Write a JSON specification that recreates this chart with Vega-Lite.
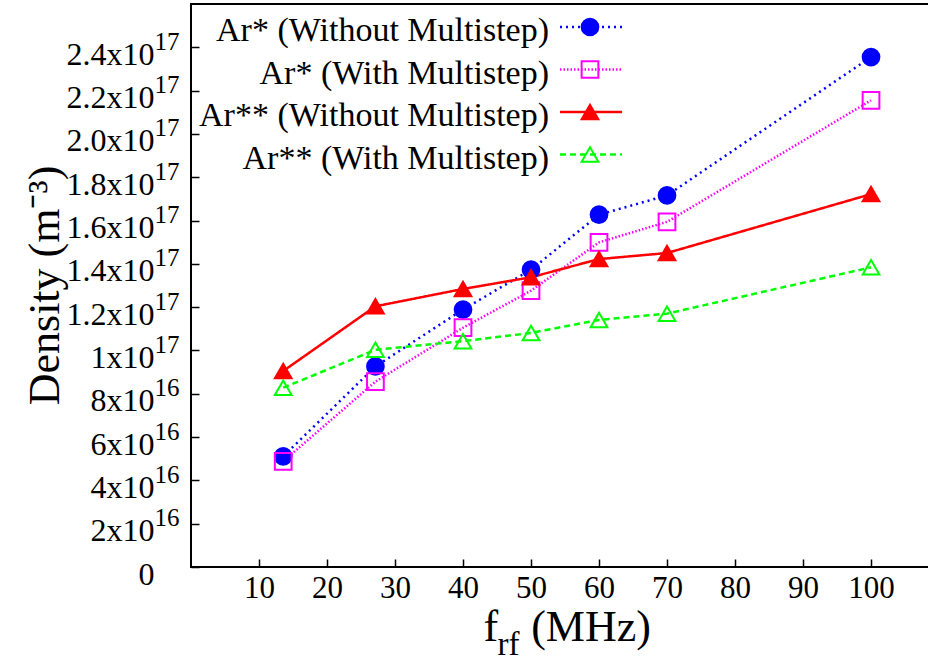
{
  "$schema": "https://vega.github.io/schema/vega-lite/v6.json",
  "width": 740,
  "height": 563,
  "autosize": {"type": "none"},
  "padding": {"left": 191, "top": 4, "right": 0, "bottom": 90},
  "background": "white",
  "config": {
    "view": {"stroke": "black", "strokeWidth": 2},
    "font": "Liberation Serif",
    "axis": {"grid": false, "domain": false, "labelFont": "Liberation Serif", "titleFont": "Liberation Serif", "labelColor": "black", "titleColor": "black", "titleFontWeight": "normal", "tickColor": "black"}
  },
  "data": {
    "values": [
      {"f": 13.56, "d": 5.11e16, "s": "Ar* (Without Multistep)"},
      {"f": 27.12, "d": 9.26e16, "s": "Ar* (Without Multistep)"},
      {"f": 40, "d": 1.189e17, "s": "Ar* (Without Multistep)"},
      {"f": 50, "d": 1.373e17, "s": "Ar* (Without Multistep)"},
      {"f": 60, "d": 1.627e17, "s": "Ar* (Without Multistep)"},
      {"f": 70, "d": 1.716e17, "s": "Ar* (Without Multistep)"},
      {"f": 100, "d": 2.355e17, "s": "Ar* (Without Multistep)"},
      {"f": 13.56, "d": 4.88e16, "s": "Ar* (With Multistep)"},
      {"f": 27.12, "d": 8.56e16, "s": "Ar* (With Multistep)"},
      {"f": 40, "d": 1.105e17, "s": "Ar* (With Multistep)"},
      {"f": 50, "d": 1.276e17, "s": "Ar* (With Multistep)"},
      {"f": 60, "d": 1.499e17, "s": "Ar* (With Multistep)"},
      {"f": 70, "d": 1.594e17, "s": "Ar* (With Multistep)"},
      {"f": 100, "d": 2.155e17, "s": "Ar* (With Multistep)"},
      {"f": 13.56, "d": 9.05e16, "s": "Ar** (Without Multistep)"},
      {"f": 27.12, "d": 1.204e17, "s": "Ar** (Without Multistep)"},
      {"f": 40, "d": 1.284e17, "s": "Ar** (Without Multistep)"},
      {"f": 50, "d": 1.338e17, "s": "Ar** (Without Multistep)"},
      {"f": 60, "d": 1.422e17, "s": "Ar** (Without Multistep)"},
      {"f": 70, "d": 1.45e17, "s": "Ar** (Without Multistep)"},
      {"f": 100, "d": 1.722e17, "s": "Ar** (Without Multistep)"},
      {"f": 13.56, "d": 8.28e16, "s": "Ar** (With Multistep)"},
      {"f": 27.12, "d": 1.003e17, "s": "Ar** (With Multistep)"},
      {"f": 40, "d": 1.043e17, "s": "Ar** (With Multistep)"},
      {"f": 50, "d": 1.081e17, "s": "Ar** (With Multistep)"},
      {"f": 60, "d": 1.141e17, "s": "Ar** (With Multistep)"},
      {"f": 70, "d": 1.17e17, "s": "Ar** (With Multistep)"},
      {"f": 100, "d": 1.384e17, "s": "Ar** (With Multistep)"}
    ]
  },
  "layer": [
    {
      "mark": {"type": "line", "strokeWidth": 2.5},
      "encoding": {
        "x": {
          "field": "f", "type": "quantitative",
          "scale": {"domain": [0, 108.82], "nice": false, "zero": false},
          "axis": {"values": [10, 20, 30, 40, 50, 60, 70, 80, 90, 100], "tickSize": -8, "tickWidth": 1.5, "labelFontSize": 31, "labelPadding": 14, "labelBaseline": "top", "title": "f\u00a0\u00a0\u00a0(MHz)", "titleFontSize": 44, "titleX": 292, "titleY": 73, "titleAlign": "left", "titleBaseline": "alphabetic"}
        },
        "y": {
          "field": "d", "type": "quantitative",
          "scale": {"domain": [0, 2.6e17], "nice": false},
          "axis": {"values": [0, 2e16, 4e16, 6e16, 8e16, 1e17, 1.2e17, 1.4e17, 1.6e17, 1.8e17, 2e17, 2.2e17, 2.4e17],
            "labelExpr": "datum.value == 0 ? '0' : datum.value < 9.9e16 ? format(datum.value/1e16, 'd') + 'x10' : (abs(datum.value - 1e17) < 1e15 ? '1x10' : format(datum.value/1e17, '.1f') + 'x10')",
            "tickSize": -8, "tickWidth": 1.5, "labelFontSize": 32, "labelPadding": 45, "labelOffset": 7, "labelBaseline": "middle",
            "title": "Density (m\u207b\u00b3)", "titleFontSize": 44, "titleX": -133, "titleY": 281, "titleAlign": "center", "titleBaseline": "alphabetic", "titleAngle": 270}
        },
        "color": {
          "field": "s", "type": "nominal",
          "scale": {"domain": ["Ar* (Without Multistep)", "Ar* (With Multistep)", "Ar** (Without Multistep)", "Ar** (With Multistep)"], "range": ["#0000ff", "#ff00ff", "#ff0000", "#00ff00"]},
          "legend": {"orient": "none", "legendX": 383, "legendY": 6, "title": null, "symbolType": "M-3.5,0H3.5", "symbolSize": 314, "symbolStrokeWidth": 2.5, "labelFontSize": 34, "labelFont": "Liberation Serif", "labelColor": "black", "labelAlign": "right", "labelOffset": -59, "labelLimit": 0, "rowPadding": 4.5, "padding": 0, "encode": {"labels": {"update": {"dy": {"value": 4}}}}}
        },
        "strokeDash": {
          "field": "s", "type": "nominal",
          "scale": {"domain": ["Ar* (Without Multistep)", "Ar* (With Multistep)", "Ar** (Without Multistep)", "Ar** (With Multistep)"], "range": [[2, 4], [1.5, 2], [1, 0], [6, 4]]},
          "legend": {"orient": "none", "legendX": 383, "legendY": 6, "title": null, "symbolType": "M-3.5,0H3.5", "symbolSize": 314, "symbolStrokeWidth": 2.5, "labelFontSize": 34, "labelFont": "Liberation Serif", "labelColor": "black", "labelAlign": "right", "labelOffset": -59, "labelLimit": 0, "rowPadding": 4.5, "padding": 0, "encode": {"labels": {"update": {"dy": {"value": 4}}}}}
        }
      }
    },
    {
      "mark": {"type": "point", "size": 280, "strokeWidth": 2, "opacity": 1},
      "encoding": {
        "x": {
          "field": "f", "type": "quantitative",
          "axis": {"orient": "bottom", "labels": false, "ticks": false, "domain": false, "title": "rf", "titleFontSize": 33, "titleX": 306, "titleY": 87, "titleAlign": "left", "titleBaseline": "alphabetic"}
        },
        "y": {
          "field": "d", "type": "quantitative",
          "axis": {"orient": "left", "values": [0, 2e16, 4e16, 6e16, 8e16, 1e17, 1.2e17, 1.4e17, 1.6e17, 1.8e17, 2e17, 2.2e17, 2.4e17],
            "labelExpr": "datum.value == 0 ? '' : (datum.value < 9.9e16 ? '16' : '17')",
            "ticks": false, "domain": false, "labelFontSize": 25, "labelAlign": "left", "labelPadding": 37, "labelOffset": -6, "labelBaseline": "middle",
            "title": null}
        },
        "shape": {
          "field": "s", "type": "nominal",
          "scale": {"domain": ["Ar* (Without Multistep)", "Ar* (With Multistep)", "Ar** (Without Multistep)", "Ar** (With Multistep)"], "range": ["circle", "square", "triangle-up", "triangle-up"]},
          "legend": {"orient": "none", "legendX": 382, "legendY": 6, "title": null, "symbolSize": 280, "symbolStrokeWidth": 2, "labelFontSize": 34, "labelOpacity": 0, "labelAlign": "right", "labelOffset": -74, "labelLimit": 0, "rowPadding": 8.5, "padding": 0}
        },
        "stroke": {
          "field": "s", "type": "nominal",
          "scale": {"domain": ["Ar* (Without Multistep)", "Ar* (With Multistep)", "Ar** (Without Multistep)", "Ar** (With Multistep)"], "range": ["#0000ff", "#ff00ff", "#ff0000", "#00ff00"]},
          "legend": {"orient": "none", "legendX": 382, "legendY": 6, "title": null, "symbolSize": 280, "symbolStrokeWidth": 2, "labelFontSize": 34, "labelOpacity": 0, "labelAlign": "right", "labelOffset": -74, "labelLimit": 0, "rowPadding": 8.5, "padding": 0}
        },
        "fill": {
          "field": "s", "type": "nominal",
          "scale": {"domain": ["Ar* (Without Multistep)", "Ar* (With Multistep)", "Ar** (Without Multistep)", "Ar** (With Multistep)"], "range": ["#0000ff", "transparent", "#ff0000", "transparent"]},
          "legend": {"orient": "none", "legendX": 382, "legendY": 6, "title": null, "symbolSize": 280, "symbolStrokeWidth": 2, "labelFontSize": 34, "labelOpacity": 0, "labelAlign": "right", "labelOffset": -74, "labelLimit": 0, "rowPadding": 8.5, "padding": 0}
        }
      }
    }
  ],
  "resolve": {
    "axis": {"x": "independent", "y": "independent"},
    "legend": {"color": "independent", "strokeDash": "independent", "shape": "independent", "stroke": "independent", "fill": "independent"}
  }
}
